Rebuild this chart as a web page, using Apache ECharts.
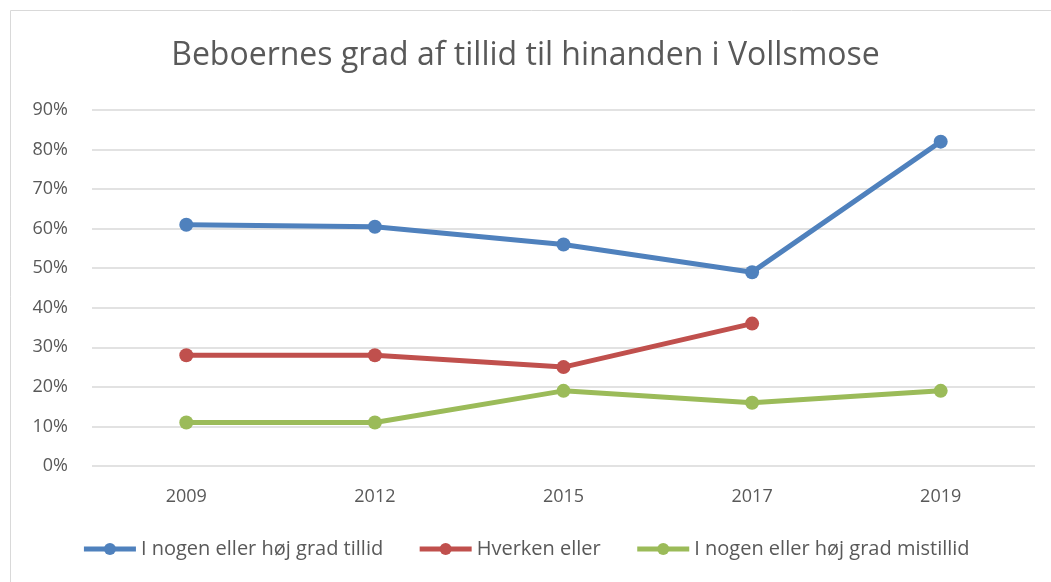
<!DOCTYPE html>
<html>
<head>
<meta charset="utf-8">
<script src="https://cdn.jsdelivr.net/npm/echarts@6/dist/echarts.min.js"></script>
<style>
html,body{margin:0;padding:0;background:#fff;}
#c1{width:1051px;height:582px;}
</style>
</head>
<body>
<div id="c1"></div>
<script>
var chart = echarts.init(document.getElementById('c1'));

var years = ['2009', '2012', '2015', '2017', '2019'];
var tillid = [61, 60.5, 56, 49, 82];
var hverken = [28, 28, 25, 36, null];
var mistillid = [11, 11, 19, 16, 19];

var names = ['I nogen eller høj grad tillid', 'Hverken eller', 'I nogen eller høj grad mistillid'];
var colors = ['#4F81BD', '#C0504D', '#9BBB59'];

function mkSeries(name, data, color) {
   return {
      name: name,
      type: 'line',
      data: data,
      symbol: 'circle',
      symbolSize: 14,
      lineStyle: {width: 5, color: color},
      itemStyle: {color: color},
      connectNulls: false,
      animation: false
   };
}

var option = {
   textStyle: {fontFamily: 'Open Sans'},
   graphic: [{
      type: 'rect',
      shape: {x: 10.5, y: 10.5, width: 1060, height: 600},
      style: {fill: 'none', stroke: '#d9d9d9', lineWidth: 1},
      silent: true
   }],
   title: {
      text: 'Beboernes grad af tillid til hinanden i Vollsmose',
      left: 'center',
      top: 35,
      textStyle: {fontSize: 32, fontWeight: 'normal', color: '#595959', fontFamily: 'Open Sans'}
   },
   legend: {
      bottom: 18,
      left: 'center',
      itemWidth: 52,
      itemHeight: 15,
      itemGap: 34,
      lineStyle: {width: 5},
      textStyle: {fontSize: 20, color: '#595959'},
      data: names
   },
   grid: {left: 92, right: 16, top: 110, bottom: 116},
   xAxis: {
      type: 'category',
      data: years,
      boundaryGap: true,
      axisLine: {show: false},
      axisTick: {show: false},
      axisLabel: {fontSize: 18, color: '#595959', margin: 22}
   },
   yAxis: {
      type: 'value',
      min: 0,
      max: 90,
      interval: 10,
      axisLine: {show: false},
      axisTick: {show: false},
      splitLine: {lineStyle: {color: '#d9d9d9', width: 1.5}},
      axisLabel: {fontSize: 18, color: '#595959', margin: 24, formatter: '{value}%'}
   },
   series: [
      mkSeries(names[0], tillid, colors[0]),
      mkSeries(names[1], hverken, colors[1]),
      mkSeries(names[2], mistillid, colors[2])
   ]
};
chart.setOption(option);
</script>
</body>
</html>
